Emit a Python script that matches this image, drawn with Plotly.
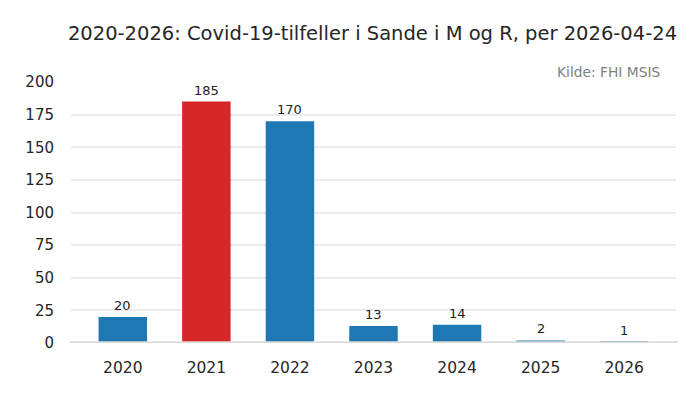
import plotly.graph_objects as go

years = ["2020", "2021", "2022", "2023", "2024", "2025", "2026"]
cases = [20, 185, 170, 13, 14, 2, 1]
colors = ["#1f77b4", "#d62728", "#1f77b4", "#1f77b4", "#1f77b4", "#1f77b4", "#1f77b4"]
yticks = [0, 25, 50, 75, 100, 125, 150, 175, 200]

xpos = list(range(len(years)))
fig = go.Figure(go.Bar(
    x=xpos, y=cases, marker_color=colors, marker_line_width=0, width=0.58,
))
labels = [dict(x=x, y=v, xref="x", yref="y", text=str(v), showarrow=False,
               yanchor="bottom", yshift=2,
               font=dict(size=13, color="#222", family="DejaVu Sans"))
          for x, v in zip(xpos, cases)]
fig.update_layout(
    width=700, height=400, plot_bgcolor="white", paper_bgcolor="white",
    margin=dict(l=63, r=32, t=74, b=65),
    font=dict(family="DejaVu Sans", color="#333"),
    title=dict(text="2020-2026: Covid-19-tilfeller i Sande i M og R, per 2026-04-24",
               x=364.5 / 700, xanchor="center", y=1 - 25 / 400, yanchor="middle",
               font=dict(size=19.5, color="#262626")),
    showlegend=False,
    annotations=labels + [dict(text="Kilde: FHI MSIS", xref="paper", yref="paper", x=0.977, y=1.0,
                               xanchor="right", yanchor="bottom", yshift=0, showarrow=False,
                               font=dict(size=13.8, color="#808080"))],
    shapes=[dict(type="line", xref="paper", x0=-0.002, x1=1.003, yref="y", y0=0, y1=0,
                 line=dict(color="#dcdcdc", width=3.5), layer="above")],
)
fig.update_xaxes(range=[-0.62, 6.62], tickvals=xpos, ticktext=years,
                 showgrid=False, tickfont=dict(size=15.5, color="#262626"), ticks="outside",
                 ticklen=10, tickcolor="rgba(0,0,0,0)", showline=False, zeroline=False,
                 automargin=False)
fig.update_yaxes(range=[0, 200], tickvals=yticks, showgrid=True, gridcolor="#ebebeb", gridwidth=2,
                 zeroline=False,
                 tickfont=dict(size=15, color="#262626"), ticks="outside", ticklen=13,
                 tickcolor="rgba(0,0,0,0)", showline=False, automargin=False)
fig.write_html("out.html")
